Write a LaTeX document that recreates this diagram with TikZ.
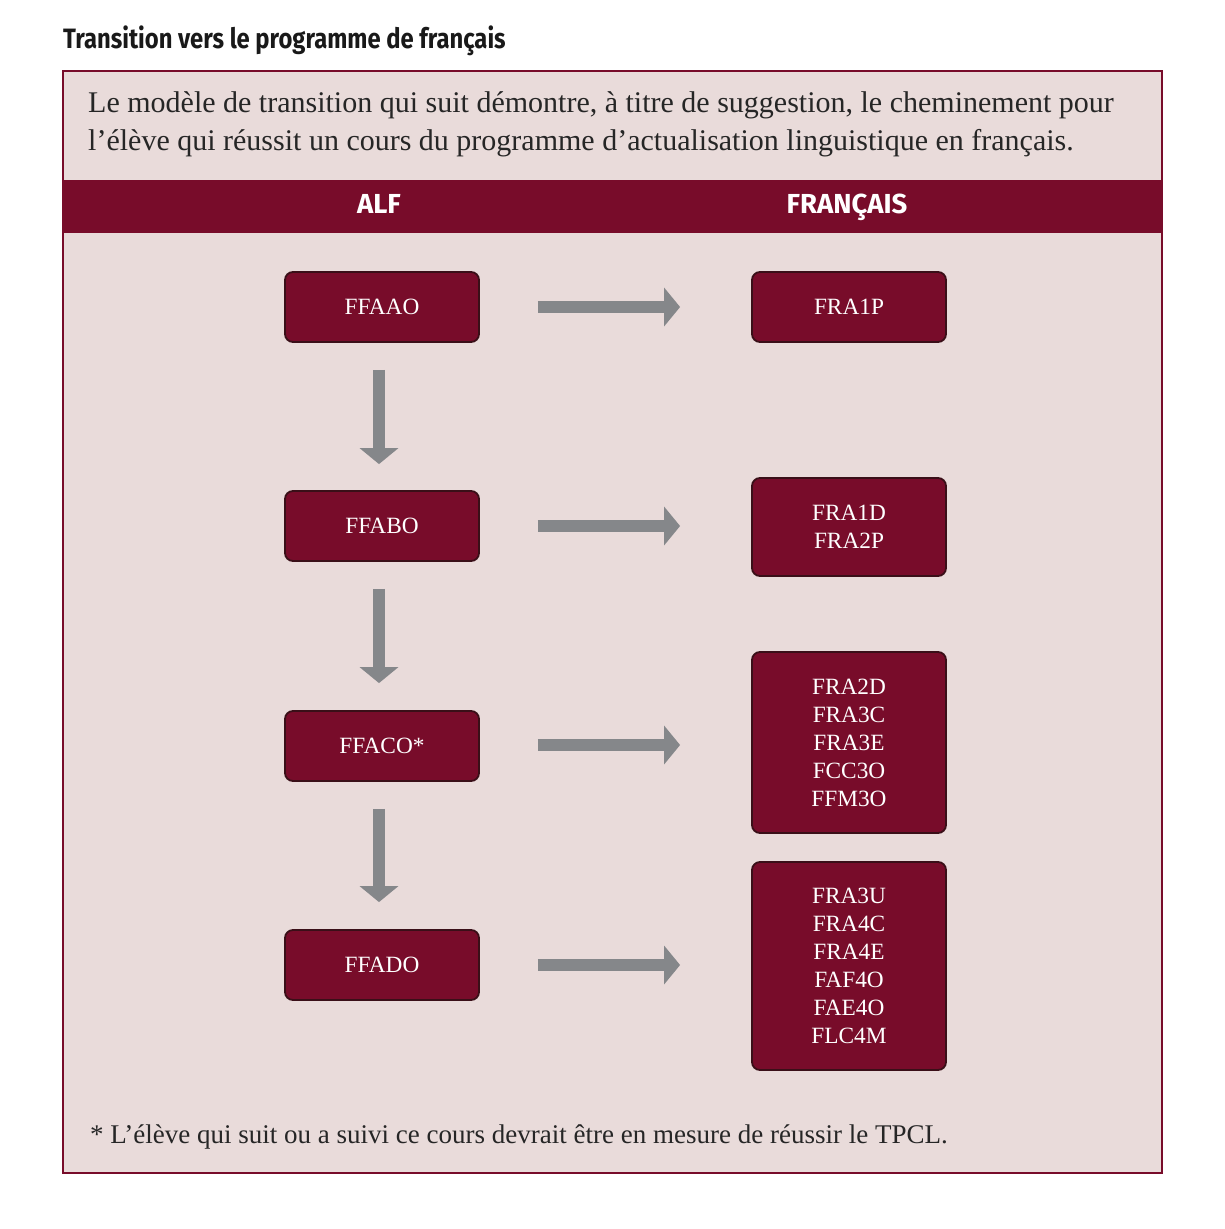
\documentclass[tikz,border=0pt]{standalone}
\usepackage{fontspec}
\setmainfont{Liberation Serif}
\newfontfamily\hdfont{Fira Sans}
\usetikzlibrary{arrows.meta,calc}
\definecolor{wine}{HTML}{780C2A}
\definecolor{wineedge}{HTML}{3A0F18}
\definecolor{pinkbg}{HTML}{E9DBDA}
\definecolor{arrowgray}{HTML}{85878A}
\tikzset{
  course/.style={draw=wineedge, line width=1.8pt, fill=wine, rounded corners=8pt,
    minimum width=194pt, text=white, font=\fontsize{23.3}{28}\selectfont, align=center, inner sep=0pt},
  flow/.style={draw=arrowgray, line width=12pt, -{Triangle[width=38pt,length=16pt]}},
  hdtext/.style={text=white, anchor=base, font=\hdfont\bfseries\fontsize{27.5}{30}\selectfont},
  bodytext/.style={anchor=base west, inner sep=0pt, font=\fontsize{30}{38}\selectfont, text=black!85}
}
\begin{document}
\begin{tikzpicture}[x=1pt,y=-1pt]
\useasboundingbox (0,0) rectangle (1225,1229);
\fill[white] (0,0) rectangle (1225,1229);
% title
\node[anchor=base west, inner sep=0pt, font=\hdfont\bfseries\fontsize{28}{32}\selectfont, text=black!90] (title) at (63,48) {\scalebox{0.85}[1]{Transition vers le programme de français}};
% frame
\draw[draw=wine, line width=2pt, fill=pinkbg] (63,71) rectangle (1162,1173);
\fill[wine] (63,180) rectangle (1162,233);
\node[hdtext] (alf) at (379,213) {ALF};
\node[hdtext] (fra) at (847,213) {FRANÇAIS};
% intro text
\node[bodytext] (l1) at (88,112) {Le modèle de transition qui suit démontre, à titre de suggestion, le cheminement pour};
\node[bodytext] (l2) at (88,150) {l’élève qui réussit un cours du programme d’actualisation linguistique en français.};
% left column
\node[course, minimum height=70pt] (a) at (382,307) {FFAAO};
\node[course, minimum height=70pt] (b) at (382,526) {FFABO};
\node[course, minimum height=70pt] (c) at (382,746) {FFACO*};
\node[course, minimum height=70pt] (d) at (382,965) {FFADO};
% right column
\node[course, minimum height=70pt] (r1) at (849,307) {FRA1P};
\node[course, minimum height=98pt] (r2) at (849,527) {FRA1D\\FRA2P};
\node[course, minimum height=181pt] (r3) at (849,742.5) {FRA2D\\FRA3C\\FRA3E\\FCC3O\\FFM3O};
\node[course, minimum height=208pt] (r4) at (849,966) {FRA3U\\FRA4C\\FRA4E\\FAF4O\\FAE4O\\FLC4M};
% arrows
\draw[flow, shorten <=58pt, shorten >=71pt] (a.east) -- (a.east -| r1.west);
\draw[flow, shorten <=58pt, shorten >=71pt] (b.east) -- (b.east -| r2.west);
\draw[flow, shorten <=58pt, shorten >=71pt] ($(c.east)+(0,-1)$) -- ($(c.east -| r3.west)+(0,-1)$);
\draw[flow, shorten <=58pt, shorten >=71pt] (d.east) -- (d.east -| r4.west);
\draw[flow, shorten <=27pt, shorten >=26pt] ($(a.south)+(-3,0)$) -- ($(b.north)+(-3,0)$);
\draw[flow, shorten <=27pt, shorten >=27pt] ($(b.south)+(-3,0)$) -- ($(c.north)+(-3,0)$);
\draw[flow, shorten <=27pt, shorten >=27pt] ($(c.south)+(-3,0)$) -- ($(d.north)+(-3,0)$);
% footnote
\node[bodytext, font=\fontsize{27}{30}\selectfont] (foot) at (90,1143) {* L’élève qui suit ou a suivi ce cours devrait être en mesure de réussir le TPCL.};
\end{tikzpicture}
\end{document}
